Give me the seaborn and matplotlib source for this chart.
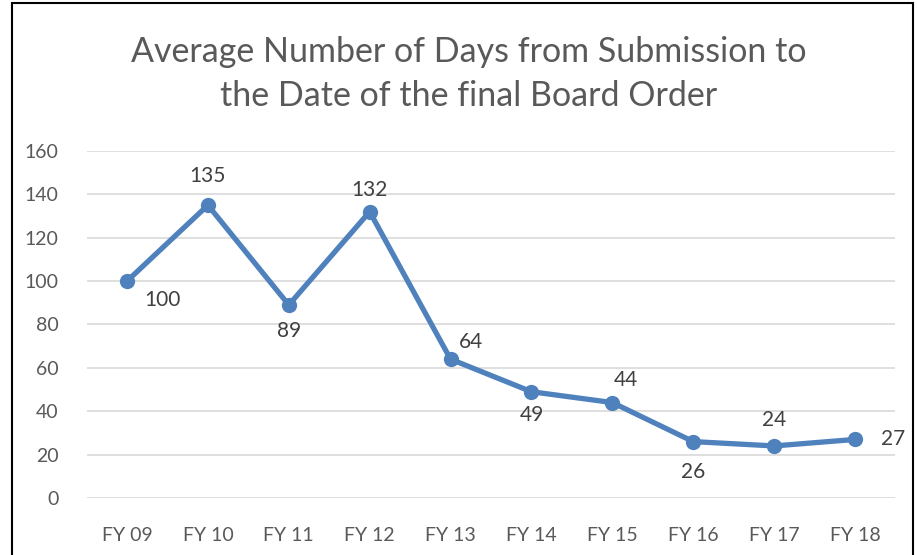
import matplotlib
matplotlib.use("Agg")
import matplotlib.pyplot as plt
import matplotlib.patches as patches
import seaborn as sns
import pandas as pd

# chart data
years = ['FY 09', 'FY 10', 'FY 11', 'FY 12', 'FY 13', 'FY 14', 'FY 15', 'FY 16', 'FY 17', 'FY 18']
days = [100, 135, 89, 132, 64, 49, 44, 26, 24, 27]
# where each data label sits relative to its point (pixels)
label_offsets = [(35, -19), (0, 29), (0, -26), (0, 22), (20, 17), (0, -23), (14, 23), (0, -30), (0, 26), (38, 0)]

df = pd.DataFrame({'pos': range(len(years)), 'days': days})

sns.set_theme(style='white')
plt.rcParams['font.family'] = ['Lato', 'DejaVu Sans']

fig = plt.figure(figsize=(9.17, 5.55), dpi=100)
ax = fig.add_axes([0.0944, 0.1027, 0.8821, 0.6253])

sns.lineplot(data=df, x='pos', y='days', ax=ax, color='#4F81BD', linewidth=3.8,
             marker='o', markersize=11, markeredgewidth=0, sort=False)

for x, y, off in zip(df['pos'], df['days'], label_offsets):
    ax.annotate(str(y), (x, y), xytext=off, textcoords='offset pixels',
                ha='center', va='center', fontsize=15, color='#404040')

ax.set_xlim(-0.5, len(years) - 0.5)
ax.set_ylim(0, 160)
ax.set_yticks(range(0, 161, 20))
ax.set_xticks(range(len(years)))
ax.set_xticklabels(years)
ax.set_xlabel('')
ax.set_ylabel('')
ax.grid(axis='y', color='#D9D9D9', linewidth=1.2)
ax.set_axisbelow(True)
for s in ax.spines.values():
    s.set_visible(False)
ax.tick_params(axis='both', length=0, labelsize=14, labelcolor='#595959')
ax.tick_params(axis='x', pad=21)
ax.tick_params(axis='y', pad=20)

fig.text(0.511, 0.867, 'Average Number of Days from Submission to\nthe Date of the final Board Order',
         ha='center', va='center', fontsize=24.5, color='#595959', linespacing=1.45)

# chart border
fig.patches.append(patches.Rectangle((12 / 917, -0.01), (913 - 12) / 917, 1 - 3 / 555 + 0.01,
                                     transform=fig.transFigure, fill=False,
                                     edgecolor='black', linewidth=1.5))

fig.savefig('out.png', dpi=100)
